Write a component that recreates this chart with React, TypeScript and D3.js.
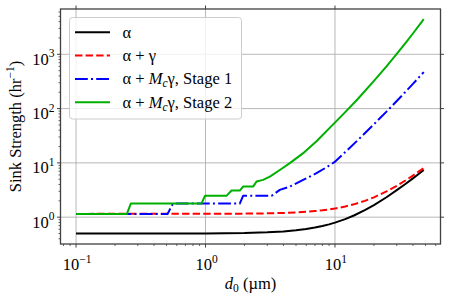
import * as d3 from 'd3'

// d0 (µm) vs sink strength (hr^-1)
const alphaPts: [number, number][] = [
  [0.1, 0.5], [1, 0.503], [2, 0.51], [3, 0.526], [4, 0.547], [5, 0.573], [6, 0.605],
  [7, 0.643], [8, 0.688], [9, 0.737], [10, 0.793], [12, 0.92], [14, 1.074], [17, 1.35],
  [20, 1.67], [25, 2.33], [30, 3.14], [35, 4.09], [40, 5.19], [44, 6.17], [48.5, 7.39],
]
const alphaGammaPts: [number, number][] = [
  [0.1, 1.15], [1, 1.153], [2, 1.162], [3, 1.176], [4, 1.197], [5, 1.223], [6, 1.255],
  [7, 1.294], [8, 1.338], [9, 1.387], [10, 1.443], [12, 1.572], [14, 1.724], [17, 1.997],
  [20, 2.32], [25, 2.98], [30, 3.79], [35, 4.74], [40, 5.84], [44, 6.82], [48.5, 8.04],
]
const stage1Pts: [number, number][] = [
  [0.1, 1.15], [0.51, 1.15], [0.56, 1.78], [1.84, 1.78], [1.95, 2.47], [3.23, 2.47],
  [3.75, 3.18], [4.48, 3.66], [5.68, 4.86], [7.2, 6.45], [8.6, 8.3], [9.9, 10.3],
  [12, 15.8], [15, 26.2], [20, 51.5], [25, 88], [30, 138], [35, 203], [40, 285], [48.5, 470],
]
const stage2Pts: [number, number][] = [
  [0.1, 1.15], [0.247, 1.15], [0.265, 1.78], [0.93, 1.78], [0.99, 2.47], [1.45, 2.47],
  [1.59, 3.09], [1.84, 3.09], [1.95, 3.66], [2.33, 3.66], [2.48, 4.53], [2.78, 4.86],
  [3.14, 5.6], [3.75, 7.4], [4.48, 9.9], [5.68, 15.1], [7.2, 25], [9.9, 54],
  [12, 86], [15, 150], [20, 323], [25, 600], [30, 1017], [35, 1610], [40, 2415], [48.5, 4440],
]

const xMajor = [0.1, 1, 10]
const yMajor = [1, 10, 100, 1000]
const xExp = ['\u22121', '0', '1']
const yExp = ['0', '1', '2', '3']

const series = [
  { name: 'a', pts: alphaPts, color: '#000000', dash: null },
  { name: 'ag', pts: alphaGammaPts, color: '#ff0000', dash: '7.4,3.2' },
  { name: 's1', pts: stage1Pts, color: '#0000ff', dash: '12.8,3.2,2,3.2' },
  { name: 's2', pts: stage2Pts, color: '#00b000', dash: null },
]

const W = 450
const H = 300
const L = 60.5, R = 440.5, T = 9, B = 244
const FONT = '"Liberation Serif", "DejaVu Serif", serif'

function minorTicks(lo: number, hi: number, majors: number[]) {
  const out: number[] = []
  for (let e = Math.floor(Math.log10(lo)) - 1; e <= Math.ceil(Math.log10(hi)); e++) {
    for (let k = 2; k <= 9; k++) {
      const v = k * Math.pow(10, e)
      if (v >= lo && v <= hi && !majors.includes(v)) out.push(v)
    }
  }
  return out
}

export default function App() {
  const x = d3.scaleLog().domain([Math.pow(10, -1.12), Math.pow(10, 1.815)]).range([L, R])
  const y = d3.scaleLog().domain([Math.pow(10, -0.494), Math.pow(10, 3.834)]).range([B, T])
  const [x0, x1] = x.domain()
  const [y0, y1] = y.domain()
  const xMinor = minorTicks(x0, x1, xMajor)
  const yMinor = minorTicks(y0, y1, yMajor)

  const line = d3.line<[number, number]>()
    .x(d => x(d[0]))
    .y(d => y(d[1]))

  const spine = '#404040'

  return (
    <svg width={W} height={H} style={{ position: 'absolute', left: 0, top: 0, background: '#fff' }}
      fontFamily={FONT}>
      <defs>
        <clipPath id="plot"><rect x={L} y={T} width={R - L} height={B - T} /></clipPath>
      </defs>
      <rect x={0} y={0} width={W} height={H} fill="#fff" />

      {/* grid */}
      {xMajor.map(v => (
        <line key={'gx' + v} x1={x(v)} x2={x(v)} y1={T} y2={B} stroke="#b0b0b0" strokeWidth={0.9} />
      ))}
      {yMajor.map(v => (
        <line key={'gy' + v} x1={L} x2={R} y1={y(v)} y2={y(v)} stroke="#b0b0b0" strokeWidth={0.9} />
      ))}

      {/* curves */}
      <g clipPath="url(#plot)">
        {series.map(s => (
          <path key={s.name} d={line(s.pts) || ''} fill="none" stroke={s.color} strokeWidth={2}
            strokeDasharray={s.dash || undefined} strokeLinejoin="round" />
        ))}
      </g>

      {/* frame */}
      <rect x={L} y={T} width={R - L} height={B - T} fill="none" stroke={spine} strokeWidth={1.3} />

      {/* x ticks */}
      {xMajor.map((v, i) => (
        <g key={'xt' + v}>
          <line x1={x(v)} x2={x(v)} y1={B} y2={B + 3.5} stroke={spine} strokeWidth={1} />
          <line x1={x(v)} x2={x(v)} y1={T} y2={T - 3.5} stroke={spine} strokeWidth={1} />
          <text x={x(v) + 1} y={B + 26} textAnchor="middle" fontSize={16.5} fill="#000">
            10<tspan fontSize={11.5} dy={-7.5}>{xExp[i]}</tspan>
          </text>
        </g>
      ))}
      {xMinor.map(v => (
        <line key={'xm' + v} x1={x(v)} x2={x(v)} y1={B} y2={B + 2} stroke={spine} strokeWidth={0.8} />
      ))}

      {/* y ticks */}
      {yMajor.map((v, i) => (
        <g key={'yt' + v}>
          <line x1={L} x2={L - 3.5} y1={y(v)} y2={y(v)} stroke={spine} strokeWidth={1} />
          <line x1={R} x2={R + 3.5} y1={y(v)} y2={y(v)} stroke={spine} strokeWidth={1} />
          <text x={L - 6} y={y(v) + 10.5} textAnchor="end" fontSize={16.5} fill="#000">
            10<tspan fontSize={11.5} dy={-7.5}>{yExp[i]}</tspan>
          </text>
        </g>
      ))}
      {yMinor.map(v => (
        <line key={'ym' + v} x1={L} x2={L - 2} y1={y(v)} y2={y(v)} stroke={spine} strokeWidth={0.8} />
      ))}

      {/* axis labels */}
      <text x={(L + R) / 2} y={289} textAnchor="middle" fontSize={16.5} fill="#000">
        <tspan fontStyle="italic">d</tspan><tspan fontSize={11.5} dy={3}>0</tspan><tspan dy={-3}> (µm)</tspan>
      </text>
      <text transform={`translate(20.5,${(T + B) / 2}) rotate(-90)`} textAnchor="middle" fontSize={16.5} fill="#000">
        Sink Strength (hr<tspan fontSize={11.5} dy={-7}>{'\u22121'}</tspan><tspan dy={7}>)</tspan>
      </text>

      {/* legend */}
      <g>
        <rect x={69.5} y={17.5} width={172} height={101.5} rx={3} fill="#fff" fillOpacity={0.8}
          stroke="#cccccc" strokeWidth={1} />
        {series.map((s, i) => {
          const cy = 32.3 + i * 23.3
          return (
            <g key={'lg' + s.name}>
              <line x1={75} x2={110} y1={cy} y2={cy} stroke={s.color} strokeWidth={2}
                strokeDasharray={s.dash || undefined} />
              <text x={122.5} y={cy + 5.5} fontSize={16.5} fill="#000">
                {i === 0 && 'α'}
                {i === 1 && 'α + γ'}
                {i >= 2 && (
                  <>
                    {'α + '}
                    <tspan fontStyle="italic">M</tspan>
                    <tspan fontStyle="italic" fontSize={11.5} dy={3}>c</tspan>
                    <tspan dy={-3}>{`γ, Stage ${i - 1}`}</tspan>
                  </>
                )}
              </text>
            </g>
          )
        })}
      </g>
    </svg>
  )
}
